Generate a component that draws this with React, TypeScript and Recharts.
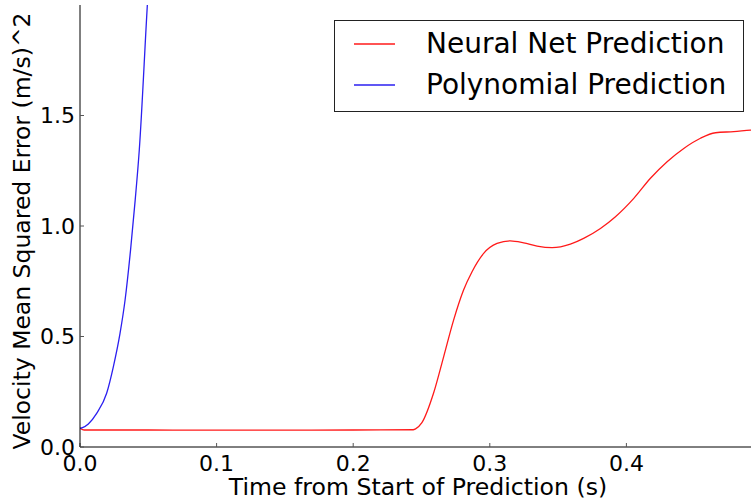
import React from 'react';
import { LineChart, Line, XAxis, YAxis, Legend, Label } from 'recharts';

const FONT = '"DejaVu Sans", "Liberation Sans", sans-serif';

// Neural net prediction error over time
const nnTime = [
  0, 0.003, 0.05, 0.1, 0.15, 0.2, 0.244, 0.2454, 0.2503, 0.2588, 0.2662, 0.2735,
  0.2808, 0.287, 0.2955, 0.3053, 0.315, 0.3248, 0.3346, 0.3456, 0.359, 0.3687,
  0.381, 0.392, 0.4054, 0.4176, 0.4298, 0.442, 0.4542, 0.4652, 0.4786, 0.4908, 0.5,
];
const nnError = [
  0.085, 0.077, 0.077, 0.076, 0.076, 0.077, 0.078, 0.081, 0.11, 0.243, 0.408, 0.574,
  0.71, 0.793, 0.876, 0.921, 0.933, 0.924, 0.909, 0.902, 0.918, 0.944,
  0.989, 1.042, 1.125, 1.216, 1.291, 1.351, 1.397, 1.422, 1.427, 1.434, 1.437,
];

// Polynomial prediction error over time (leaves the plotted range quickly)
const polyTime = [0, 0.0012, 0.0061, 0.0122, 0.0195, 0.0244, 0.0293, 0.033, 0.037, 0.0404, 0.0434, 0.0493, 0.0527];
const polyError = [0.085, 0.086, 0.104, 0.152, 0.243, 0.363, 0.514, 0.665, 0.891, 1.117, 1.344, 2.0, 2.35];

const xTicks = [0, 0.1, 0.2, 0.3, 0.4];
const yTicks = [0, 0.5, 1.0, 1.5];

const seriesNames = ['Neural Net Prediction', 'Polynomial Prediction'];
const seriesColors = ['#ff1a1a', '#2b1ff0'];

const nnData = nnTime.map((t, i) => ({ t, v: nnError[i] }));
const polyData = polyTime.map((t, i) => ({ t, v: polyError[i] }));

const fmt = (v: number) => v.toFixed(1);

const YTitle = (props: any) => {
  const { viewBox } = props;
  const cx = viewBox.x + 22;
  const cy = viewBox.y + viewBox.height / 2 + 5;
  return (
    <text
      x={cx}
      y={cy}
      transform={`rotate(-90, ${cx}, ${cy})`}
      textAnchor="middle"
      dominantBaseline="central"
      fontFamily={FONT}
      fontSize={23.5}
      fill="#000"
    >
      Velocity Mean Squared Error (m/s)^2
    </text>
  );
};

const XTitle = (props: any) => {
  const { viewBox } = props;
  const cx = 418;
  return (
    <text
      x={cx}
      y={viewBox.y + 48}
      textAnchor="middle"
      fontFamily={FONT}
      fontSize={23.6}
      fill="#000"
    >
      Time from Start of Prediction (s)
    </text>
  );
};

const LegendBox = () => (
  <div
    style={{
      position: 'relative',
      width: 410,
      height: 92,
      boxSizing: 'border-box',
      border: '1px solid #222',
      background: '#fff',
      fontFamily: FONT,
      fontSize: 28,
      color: '#000',
    }}
  >
    {seriesNames.map((name, i) => (
      <div key={name} style={{ position: 'absolute', left: 0, top: i === 0 ? 3 : 44, height: 40, width: '100%' }}>
        <svg width={42} height={40} style={{ position: 'absolute', left: 19, top: 0 }}>
          <line x1={0} y1={20} x2={41} y2={20} stroke={seriesColors[i]} strokeWidth={1.3} />
        </svg>
        <span style={{ position: 'absolute', left: 91, top: 0, lineHeight: '40px', whiteSpace: 'nowrap' }}>{name}</span>
      </div>
    ))}
  </div>
);

export default function App() {
  return (
    <div style={{ position: 'fixed', left: 0, top: 0, width: 751, height: 504, overflow: 'hidden', background: '#fff' }}>
      <LineChart width={770} height={504} margin={{ top: 5, right: 7, bottom: 0, left: 0 }}>
        <XAxis
          xAxisId="bottom"
          dataKey="t"
          type="number"
          domain={[0, 0.5]}
          ticks={xTicks}
          tickFormatter={fmt}
          allowDataOverflow
          height={57}
          axisLine={{ stroke: '#000', strokeWidth: 1 }}
          tickLine={{ stroke: '#555' }}
          tickSize={-4}
          tickMargin={12}
          tick={{ fill: '#000', fontSize: 22, fontFamily: FONT }}
        >
          <Label content={<XTitle />} />
        </XAxis>
        <XAxis
          xAxisId="top"
          orientation="top"
          dataKey="t"
          type="number"
          domain={[0, 0.5]}
          ticks={xTicks}
          allowDataOverflow
          height={0}
          axisLine={{ stroke: '#000', strokeWidth: 1 }}
          tickLine={{ stroke: '#555' }}
          tickSize={-4}
          tick={false}
        />
        <YAxis
          type="number"
          domain={[0, 2]}
          ticks={yTicks}
          tickFormatter={fmt}
          allowDataOverflow
          width={80}
          axisLine={{ stroke: '#000', strokeWidth: 1 }}
          tickLine={{ stroke: '#555' }}
          tickSize={-4}
          tickMargin={9}
          tick={{ fill: '#000', fontSize: 22, fontFamily: FONT }}
        >
          <Label content={<YTitle />} />
        </YAxis>
        <Legend
          layout="vertical"
          align="center"
          verticalAlign="middle"
          content={<LegendBox />}
          wrapperStyle={{ left: 334, top: 20, width: 410, height: 92 }}
        />
        <Line
          xAxisId="bottom"
          data={nnData}
          dataKey="v"
          name={seriesNames[0]}
          type="monotone"
          stroke={seriesColors[0]}
          strokeWidth={1.3}
          dot={false}
          activeDot={false}
          isAnimationActive={false}
        />
        <Line
          xAxisId="bottom"
          data={polyData}
          dataKey="v"
          name={seriesNames[1]}
          type="monotone"
          stroke={seriesColors[1]}
          strokeWidth={1.3}
          dot={false}
          activeDot={false}
          isAnimationActive={false}
        />
      </LineChart>
    </div>
  );
}
